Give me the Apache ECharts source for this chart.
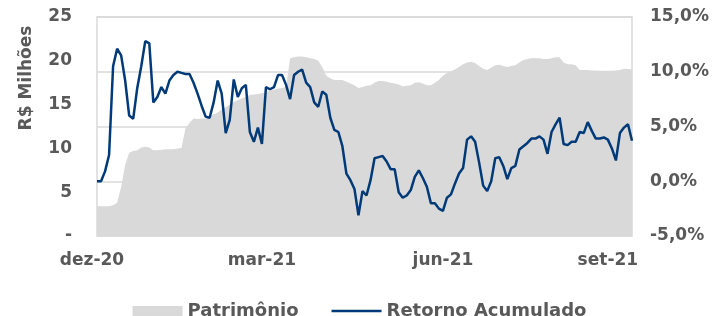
<!DOCTYPE html>
<html>
<head>
<meta charset="utf-8">
<script src="https://cdn.jsdelivr.net/npm/echarts@6/dist/echarts.min.js"></script>
<style>
    html, body { margin: 0; padding: 0; background: #fff; }
    #chart { width: 719px; height: 316px; }
</style>
</head>
<body>
<div id="chart"></div>
<script>
// Patrimônio (R$ milhões) - left axis
const patrimonio = [
    3.4, 3.4, 3.4, 3.4, 3.5, 3.8, 5.6, 8.1, 9.5, 9.7,
    9.8, 10.1, 10.2, 10.1, 9.8, 9.8, 9.85, 9.9, 9.9, 9.9,
    10.0, 10.05, 12.3, 12.9, 13.4, 13.35, 13.4, 13.4, 13.7, 13.9,
    14.1, 14.45, 14.7, 15.0, 15.3, 15.5, 15.7, 15.9, 16.1, 16.15,
    16.2, 16.3, 16.4, 16.6, 16.7, 16.85, 16.9, 17.0, 20.3, 20.4,
    20.5, 20.5, 20.4, 20.3, 20.2, 20.0, 19.3, 18.3, 18.0, 17.8,
    17.8, 17.8, 17.6, 17.4, 17.2, 16.9, 17.0, 17.15, 17.2, 17.5,
    17.7, 17.7, 17.6, 17.5, 17.4, 17.3, 17.1, 17.15, 17.2, 17.5,
    17.55, 17.4, 17.2, 17.2, 17.5, 17.8, 18.3, 18.6, 18.8, 19.0,
    19.3, 19.6, 19.8, 19.9, 19.75, 19.4, 19.1, 18.95, 19.2, 19.5,
    19.55, 19.4, 19.3, 19.4, 19.5, 19.8, 20.1, 20.2, 20.3, 20.3,
    20.3, 20.2, 20.2, 20.3, 20.4, 20.4, 19.8, 19.6, 19.6, 19.5,
    18.95, 18.95, 18.95, 18.9, 18.9, 18.85, 18.85, 18.85, 18.85, 18.9,
    18.95, 19.1, 19.05, 19.0
];

// Retorno acumulado (%) - right axis
const retorno = [
    0.0, 0.0, 0.9, 2.4, 10.5, 12.1, 11.5, 9.2, 6.0, 5.7,
    8.5, 10.5, 12.8, 12.6, 7.2, 7.7, 8.6, 8.0, 9.2, 9.7,
    10.0, 9.9, 9.8, 9.8, 9.0, 8.0, 6.9, 5.9, 5.8, 7.2,
    9.2, 8.0, 4.4, 5.6, 9.3, 7.7, 8.5, 8.8, 4.5, 3.6,
    4.9, 3.4, 8.6, 8.4, 8.6, 9.7, 9.7, 8.8, 7.5, 9.7,
    10.0, 10.2, 9.0, 8.6, 7.2, 6.8, 8.2, 7.9, 5.8, 4.7,
    4.5, 3.2, 0.7, 0.1, -0.7, -3.1, -0.9, -1.3, 0.1, 2.1,
    2.2, 2.3, 1.8, 1.1, 1.1, -1.0, -1.5, -1.3, -0.8, 0.4,
    1.0, 0.3, -0.5, -2.0, -2.0, -2.5, -2.7, -1.5, -1.2, -0.2,
    0.7, 1.2, 3.8, 4.1, 3.6, 1.7, -0.4, -0.9, 0.0, 2.1,
    2.2, 1.4, 0.2, 1.2, 1.4, 2.9, 3.2, 3.5, 3.9, 3.9,
    4.1, 3.8, 2.5, 4.5, 5.2, 5.8, 3.4, 3.3, 3.6, 3.6,
    4.5, 4.4, 5.4, 4.6, 3.9, 3.9, 4.0, 3.8, 3.0, 1.9,
    4.4, 4.9, 5.2, 3.7
];

// month labels and the point they sit on
const tickLabels = ['dez-20', 'mar-21', 'jun-21', 'set-21'];
const tickIndex = [0, 41, 86, 127];

const categories = patrimonio.map((v, i) => i);

const textColor = '#595959';
const fontFamily = 'DejaVu Sans';

const chart = echarts.init(document.getElementById('chart'));

chart.setOption({
    animation: false,
    backgroundColor: '#fff',
    grid: {
        left: 97,
        right: 87,
        top: 17,
        bottom: 80,
        show: true,
        borderColor: '#d9d9d9',
        borderWidth: 1.5
    },
    legend: {
        left: 'center',
        top: 297,
        itemWidth: 50,
        itemHeight: 10,
        itemGap: 33,
        textStyle: { color: textColor, fontFamily: fontFamily, fontWeight: 'bold', fontSize: 18 },
        data: [
            { name: 'Patrimônio', icon: 'rect' },
            // thin bar so the line key has no marker dot
            { name: 'Retorno Acumulado', icon: 'path://M0,0 L50,0 L50,2.5 L0,2.5 Z' }
        ]
    },
    graphic: [{
        type: 'text',
        x: 27,
        y: 78,
        rotation: Math.PI / 2,
        style: {
            text: 'R$ Milhões',
            fill: textColor,
            font: 'bold 17px "DejaVu Sans"',
            textAlign: 'center',
            textVerticalAlign: 'middle'
        }
    }],
    xAxis: {
        type: 'category',
        data: categories,
        boundaryGap: false,
        axisLine: { show: false },
        axisTick: { show: false },
        axisLabel: {
            color: textColor,
            fontFamily: fontFamily,
            fontWeight: 'bold',
            fontSize: 17,
            margin: 16,
            interval: (idx) => tickIndex.includes(idx),
            formatter: (v, idx) => {
                const k = tickIndex.indexOf(idx);
                if (k === 0) return '{first|' + tickLabels[0] + '}';
                return k >= 0 ? tickLabels[k] : '';
            },
            rich: {
                first: {
                    color: textColor,
                    fontFamily: fontFamily,
                    fontWeight: 'bold',
                    fontSize: 17,
                    padding: [0, 10, 0, 0]
                }
            }
        }
    },
    yAxis: [{
        type: 'value',
        position: 'left',
        min: 0,
        max: 25,
        interval: 5,
        splitLine: { show: false },
        axisLine: { show: false },
        axisTick: { show: false },
        axisLabel: {
            color: textColor,
            fontFamily: fontFamily,
            fontWeight: 'bold',
            fontSize: 17,
            margin: 25,
            formatter: (v) => v === 0 ? '-' : String(v)
        }
    }, {
        type: 'value',
        position: 'right',
        min: -5,
        max: 15,
        interval: 5,
        splitLine: { show: true, lineStyle: { color: '#d9d9d9', width: 1.5 } },
        axisLine: { show: false },
        axisTick: { show: false },
        axisLabel: {
            color: textColor,
            fontFamily: fontFamily,
            fontWeight: 'bold',
            fontSize: 17,
            margin: 18,
            formatter: (v) => v.toFixed(1).replace('.', ',') + '%'
        }
    }],
    series: [{
        name: 'Patrimônio',
        type: 'line',
        yAxisIndex: 0,
        data: patrimonio,
        symbol: 'none',
        color: '#d9d9d9',
        lineStyle: { width: 0, color: '#d9d9d9' },
        areaStyle: { color: '#d9d9d9', opacity: 1 }
    }, {
        name: 'Retorno Acumulado',
        type: 'line',
        yAxisIndex: 1,
        data: retorno,
        symbol: 'none',
        color: '#003a78',
        lineStyle: { width: 2.5, color: '#003a78' }
    }]
});
</script>
</body>
</html>
